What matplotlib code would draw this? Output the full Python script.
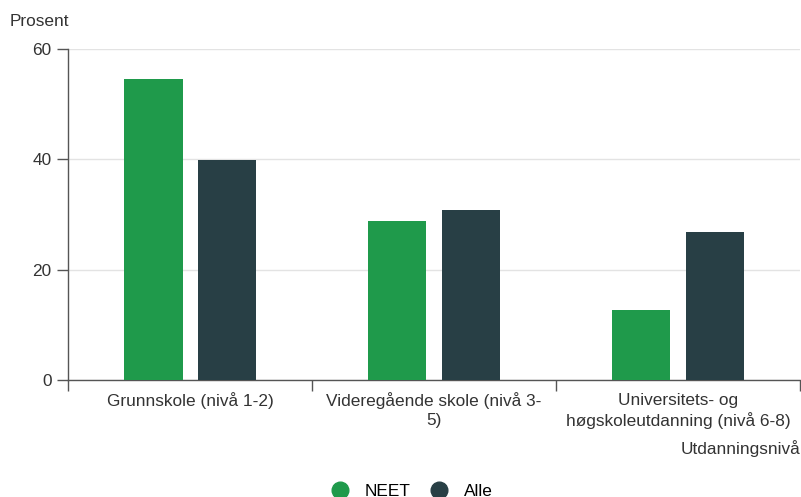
import numpy as np
import matplotlib.pyplot as plt
from matplotlib.lines import Line2D

categories = ['Grunnskole (nivå 1-2)', 'Videregående skole (nivå 3-\n5)',
              'Universitets- og\nhøgskoleutdanning (nivå 6-8)']
neet = [54.5, 28.8, 12.7]
alle = [39.9, 30.8, 26.8]
series_names = ['NEET', 'Alle']

green = '#1f9a4b'
dark = '#283f45'
fs = 12.4

plt.rcParams['font.family'] = ['Liberation Sans', 'DejaVu Sans']

fig = plt.figure(figsize=(8.01, 4.97), dpi=100)
ax = fig.add_axes([0.085, 0.2354, 0.9138, 0.666])

x = np.arange(len(categories))
w = 0.238
ax.bar(x - 0.15, neet, w, color=green, zorder=3)
ax.bar(x + 0.15, alle, w, color=dark, zorder=3)

ax.set_xlim(-0.5, len(categories) - 0.5)
ax.set_ylim(0, 60)
ax.set_yticks([0, 20, 40, 60])
ax.yaxis.grid(True, color='#e3e3e3', linewidth=1, zorder=0)

ax.set_xticks(x)
ax.set_xticklabels(categories, fontsize=fs, color='#333333', linespacing=1.3)
ax.tick_params(axis='x', which='major', length=0, pad=9)
ax.set_xticks(np.arange(-0.5, len(categories)), minor=True)
ax.tick_params(axis='x', which='minor', length=8, width=1, color='#555555')
ax.tick_params(axis='y', length=8, width=1, color='#555555',
               labelsize=fs, labelcolor='#333333', pad=4)

for s in ['top', 'right']:
    ax.spines[s].set_visible(False)
for s in ['left', 'bottom']:
    ax.spines[s].set_color('#555555')
    ax.spines[s].set_linewidth(1)

fig.text(0.012, 0.957, 'Prosent', fontsize=fs, color='#333333', ha='left', va='center')
ax.text(1.0, -0.207, 'Utdanningsnivå', transform=ax.transAxes, fontsize=fs,
        color='#333333', ha='right', va='center')

handles = [Line2D([], [], marker='o', linestyle='', markersize=12, color=c)
           for c in (green, dark)]
fig.legend(handles, series_names, loc='center', bbox_to_anchor=(0.509, 0.012),
           ncol=2, frameon=False, fontsize=fs, handletextpad=0.4,
           columnspacing=0.7)

fig.savefig('out.png', dpi=100)
